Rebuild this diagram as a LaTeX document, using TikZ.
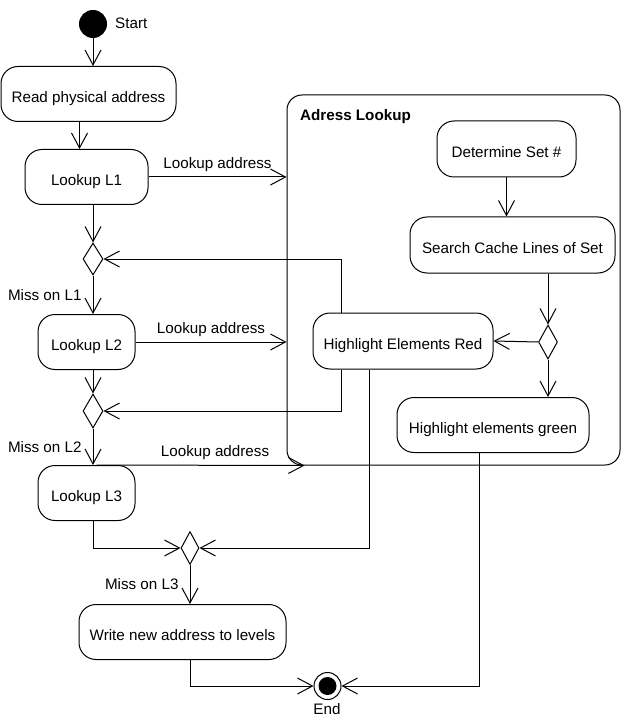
\documentclass[tikz,border=0pt]{standalone}
\usepackage{fontspec}
\setmainfont{Liberation Sans}
\usetikzlibrary{arrows.meta,positioning,calc,shapes.geometric}
\definecolor{FlowInk}{HTML}{000000}
\tikzset{
  actbox/.style={draw=FlowInk, rounded corners=17pt, line width=1pt, align=center,
                 font=\fontsize{15.2}{17}\selectfont, minimum height=55pt, inner sep=0pt,
                 text height=18pt, text depth=1pt},
  decision/.style={draw=FlowInk, diamond, line width=1pt, inner sep=0pt,
                   minimum width=19pt, minimum height=33pt},
  flow/.style={-{Straight Barb[length=15pt,width=16pt]}, line width=1pt, FlowInk},
  guard/.style={font=\fontsize{15.2}{17}\selectfont\color{FlowInk}, inner sep=1pt},
}
\begin{document}
\begin{tikzpicture}[x=1pt,y=-1pt]
  \useasboundingbox (0,0) rectangle (621,719);

  % sub-activity frame
  \node[draw=FlowInk, rounded corners=15pt, line width=1pt,
        minimum width=333pt, minimum height=370pt] (look) at (453.5,280) {};
  \node[guard, font=\fontsize{15.2}{17}\selectfont\bfseries, anchor=west] (looktitle) at (299,117) {Adress Lookup};

  % start / end
  \node[circle, fill=FlowInk, minimum size=28pt, inner sep=0pt] (start) at (93,24) {};
  \node[guard, anchor=west] (startlbl) at (114,23) {Start};
  \node[circle, draw=FlowInk, line width=1pt, minimum size=27pt, inner sep=0pt,
        path picture={\fill[FlowInk] (path picture bounding box.center) circle (9pt);}] (end) at (327.5,686) {};
  \node[guard] (endlbl) at (327,709) {End};

  % main chain
  \node[actbox, minimum width=175pt] (read)  at (88.5,94)  {Read physical address};
  \node[actbox, minimum width=123pt] (lone)  at (86.5,177) {Lookup L1};
  \node[actbox, minimum width=97pt]  (ltwo)  at (86.5,342) {Lookup L2};
  \node[actbox, minimum width=97pt]  (lthree) at (86.5,493) {Lookup L3};
  \node[actbox, minimum width=207pt] (write) at (182.5,632) {Write new address to levels};

  \node[decision, minimum width=20pt, minimum height=32pt] (done) at (93,259) {};
  \node[decision, minimum width=20pt, minimum height=34pt] (dtwo) at (93,411) {};
  \node[decision, minimum width=18pt] (dthree) at (190,548) {};

  % inside the frame
  \node[actbox, minimum width=139pt, minimum height=56pt] (det)    at (506.5,149) {Determine Set \#};
  \node[actbox, minimum width=205pt, minimum height=56pt] (search) at (512.5,245) {Search Cache Lines of Set};
  \node[decision, minimum height=34pt] (dhit) at (548,342) {};
  \node[actbox, minimum width=180pt, minimum height=56pt] (red)    at (403,341) {Highlight Elements Red};
  \node[actbox, minimum width=192pt] (green)  at (493,425) {Highlight elements green};

  % connectors
  \draw[flow] (start) -- (start |- read.north);
  \draw[flow] ([xshift=-9pt]read.south) -- ([xshift=-9pt]read.south |- lone.north);
  \draw[flow] (done |- lone.south) -- (done.north);
  \draw[flow] (lone.east) -- (lone.east -| look.west)
    node[guard, midway, above=4pt] {Lookup address};
  \draw[flow] ([xshift=-62pt]red.north) |- (done.east);
  \draw[flow] (done.south) -- (done |- ltwo.north)
    node[guard, midway, left=10pt] {Miss on L1};
  \draw[flow] (ltwo.east) -- (ltwo.east -| look.west)
    node[guard, midway, above=4pt] {Lookup address};
  \draw[flow] (dtwo |- ltwo.south) -- (dtwo.north);
  \draw[flow] ([xshift=-62pt]red.south) |- (dtwo.east);
  \draw[flow] (dtwo.south) -- (dtwo |- lthree.north)
    node[guard, midway, left=10pt] {Miss on L2};
  \draw[flow] ([xshift=10pt]lthree.north) -- ([xshift=18pt]look.south west)
    node[guard, pos=0.57, above=4pt] {Lookup address};
  \draw[flow] (dtwo |- lthree.south) |- (dthree.west);
  \draw[flow] ([xshift=-34pt]red.south) |- (dthree.east);
  \draw[flow] (dthree.south) -- (dthree |- write.north)
    node[guard, midway, left=10pt] {Miss on L3};
  \draw[flow] (dthree |- write.south) |- (end.west);
  \draw[flow] ([xshift=-14pt]green.south) |- (end.east);

  \draw[flow] (det.south) -- (det.south |- search.north);
  \draw[flow] (dhit |- search.south) -- (dhit.north);
  \draw[flow] (dhit.west) -- (red.east);
  \draw[flow] (dhit.south) -- (dhit.south |- green.north);

\end{tikzpicture}
\end{document}
